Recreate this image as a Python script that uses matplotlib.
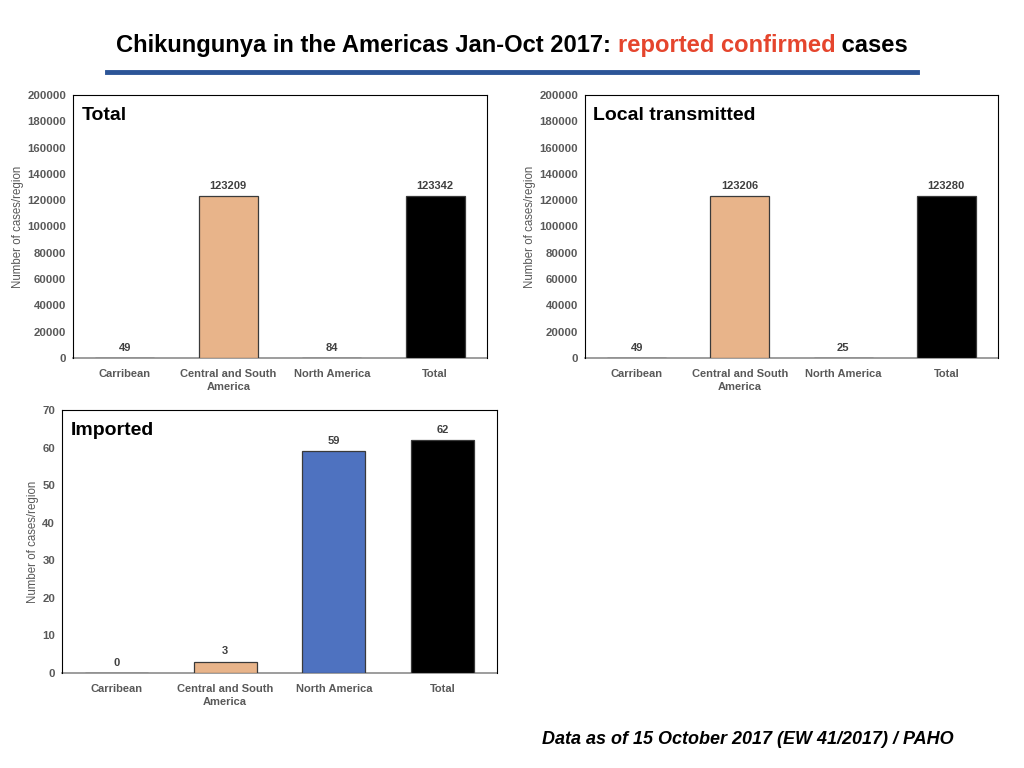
import numpy as np
import matplotlib
matplotlib.use('Agg')
import matplotlib.pyplot as plt
from matplotlib.lines import Line2D

plt.rcParams['font.family'] = ['Liberation Sans', 'DejaVu Sans']

regions = ['Carribean', 'Central and South\nAmerica', 'North America', 'Total']
total_cases = [49, 123209, 84, 123342]
local_cases = [49, 123206, 25, 123280]
imported_cases = [0, 3, 59, 62]
bar_colors = ['#8c8c8c', '#e8b48a', '#4e72c0', '#000000']

GRAY = '#595959'

fig = plt.figure(figsize=(10.24, 7.68), dpi=100)
W, H = 1024, 768


def px_axes(x0, y0, x1, y1):
    return fig.add_axes([x0 / W, 1 - y1 / H, (x1 - x0) / W, (y1 - y0) / H])


def panel(ax, vals, name, ymax, step, width, label_off):
    x = np.arange(len(vals))
    ax.bar(x, vals, width=width, color=bar_colors, edgecolor='#3a3a3a', linewidth=0.9, zorder=2)
    for xi, v in zip(x, vals):
        ax.text(xi, v + label_off, str(v), ha='center', va='bottom',
                fontsize=8, fontweight='bold', color='#404040')
    ax.set_xlim(-0.5, len(vals) - 0.5)
    ax.set_ylim(0, ymax)
    ax.set_yticks(np.arange(0, ymax + 1, step))
    ax.set_xticks(x)
    ax.set_xticklabels(regions, fontsize=8, fontweight='bold', color=GRAY, linespacing=1.3)
    ax.tick_params(axis='y', labelsize=8.2, labelcolor=GRAY, length=0, pad=5)
    for lab in ax.get_yticklabels():
        lab.set_fontweight('bold')
    ax.tick_params(axis='x', length=0, pad=8)
    for s in ['top', 'right', 'left']:
        ax.spines[s].set_color('black')
        ax.spines[s].set_linewidth(0.8)
    ax.spines['bottom'].set_color('#8c8c8c')
    ax.spines['bottom'].set_linewidth(1.2)
    ax.spines['bottom'].set_zorder(1)
    ax.set_ylabel('Number of cases/region', fontsize=8.3, color=GRAY, labelpad=2)
    ax.text(0.02, 0.955, name, transform=ax.transAxes, ha='left', va='top',
            fontsize=14, fontweight='bold', color='black')


ax1 = px_axes(73, 95, 487, 358)
panel(ax1, total_cases, 'Total', 200000, 20000, 0.57, 4000)
ax2 = px_axes(585, 95, 998, 358)
panel(ax2, local_cases, 'Local transmitted', 200000, 20000, 0.57, 4000)
ax3 = px_axes(62, 410, 497, 673)
panel(ax3, imported_cases, 'Imported', 70, 10, 0.58, 1.4)

# title in three coloured pieces
parts = [('Chikungunya in the Americas Jan-Oct 2017: ', 'black'),
         ('reported confirmed', '#e5452d'),
         (' cases', 'black')]
texts = [fig.text(0, 1 - 52 / H, p, fontsize=17.1, fontweight='bold', color=c, va='baseline')
         for p, c in parts]
fig.canvas.draw()
r = fig.canvas.get_renderer()
widths = [t.get_window_extent(r).width for t in texts]
xpos = (W - sum(widths)) / 2
for t, w in zip(texts, widths):
    t.set_x(xpos / W)
    xpos += w

fig.add_artist(Line2D([107 / W, 917 / W], [1 - 72 / H, 1 - 72 / H], color='#2c5597', lw=3.5))

fig.text(748 / W, 1 - 740 / H, 'Data as of 15 October 2017 (EW 41/2017) / PAHO',
         ha='center', va='center', fontsize=13, fontweight='bold', fontstyle='italic')

fig.savefig('out.png', dpi=100)
